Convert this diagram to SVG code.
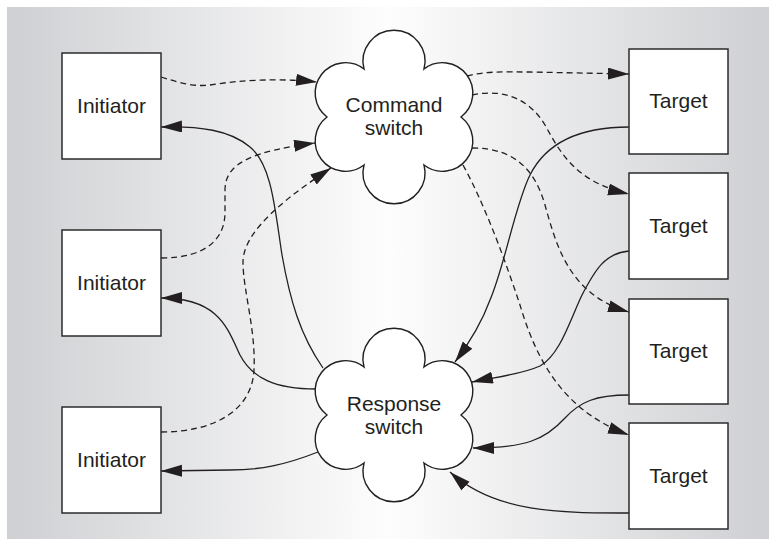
<svg xmlns="http://www.w3.org/2000/svg" width="776" height="546" viewBox="0 0 776 546">
<defs>
<linearGradient id="bg" x1="0" y1="0" x2="1" y2="0">
<stop offset="0" stop-color="#cfd0d3"/>
<stop offset="0.5" stop-color="#fdfdfd"/>
<stop offset="1" stop-color="#cfd0d3"/>
</linearGradient>
<marker id="ah" markerUnits="userSpaceOnUse" markerWidth="22" markerHeight="13" refX="21" refY="6" orient="auto" viewBox="0 0 22 13">
<path d="M0,0 L21,6 L0,12 Z" fill="#231f20"/>
</marker>
<path id="cloud" d="M364,69 A31,31 0 1 1 424,69 A30,30 0 0 1 461,117 A30,30 0 0 1 424,165 A31,31 0 1 1 364,165 A30,30 0 0 1 327,117 A30,30 0 0 1 364,69 Z"/>
</defs>
<style>
.box{fill:#ffffff;stroke:#2b2b2b;stroke-width:1.5}
.cl{fill:#ffffff;stroke:#231f20;stroke-width:1.4}
.lbl{font-family:"Liberation Sans",Arial,sans-serif;font-size:21px;fill:#231f20;text-anchor:middle}
.cmd{fill:none;stroke:#231f20;stroke-width:1.3;stroke-dasharray:6 4;marker-end:url(#ah)}
.rsp{fill:none;stroke:#231f20;stroke-width:1.3;marker-end:url(#ah)}
</style>
<rect x="7" y="7" width="762" height="532" fill="url(#bg)"/>
<g id="connectors">
<path class="cmd" d="M161,77 C180,83 195,87 210,85 C240,80 280,78 317,82"/>
<path class="cmd" d="M161,258 C205,258 225,240 225,212 L225,190 C225,162 255,151 315,143"/>
<path class="cmd" d="M161,432 C215,432 252,410 254,370 C256,330 243,290 243,262 C243,230 290,195 331,168"/>
<path class="cmd" d="M467,76 C485,71 505,72 530,72 L629,74"/>
<path class="cmd" d="M472,95 C505,88 530,100 545,125 C560,152 575,182 629,194"/>
<path class="cmd" d="M472,148 C515,148 535,170 545,205 C557,248 570,295 629,312"/>
<path class="cmd" d="M463,165 C485,205 505,260 520,305 C535,355 560,410 629,435"/>
<path class="rsp" d="M629,127 C575,127 545,145 530,175 C515,205 505,265 490,300 C482,322 470,342 455,362"/>
<path class="rsp" d="M629,251 C605,253 595,270 582,295 C570,320 560,355 540,366 C520,375 495,377 472,382"/>
<path class="rsp" d="M629,395 C595,395 580,402 565,418 C545,440 525,448 473,448"/>
<path class="rsp" d="M629,513 C560,513 495,513 450,472"/>
<path class="rsp" d="M323,368 C300,335 290,300 282,255 C275,210 272,165 250,147 C230,130 200,126 161,127"/>
<path class="rsp" d="M316,389 C275,389 252,378 240,355 C228,330 220,298 161,298"/>
<path class="rsp" d="M318,452 C285,465 260,470 230,470 L161,471"/>
</g>
<g id="initiator1"><rect class="box" x="62" y="53" width="99" height="106"/><text class="lbl" x="111.5" y="112.5">Initiator</text></g>
<g id="initiator2"><rect class="box" x="62" y="230" width="99" height="106"/><text class="lbl" x="111.5" y="289.5">Initiator</text></g>
<g id="initiator3"><rect class="box" x="62" y="407" width="99" height="106"/><text class="lbl" x="111.5" y="466.5">Initiator</text></g>
<g id="target1"><rect class="box" x="629" y="49" width="99" height="105"/><text class="lbl" x="678.5" y="108">Target</text></g>
<g id="target2"><rect class="box" x="629" y="173" width="99" height="106"/><text class="lbl" x="678.5" y="232.5">Target</text></g>
<g id="target3"><rect class="box" x="629" y="299" width="99" height="105"/><text class="lbl" x="678.5" y="358">Target</text></g>
<g id="target4"><rect class="box" x="629" y="423" width="99" height="106"/><text class="lbl" x="678.5" y="482.5">Target</text></g>
<g id="command-switch"><use href="#cloud" class="cl"/><text class="lbl" x="394" y="112">Command</text><text class="lbl" x="394" y="135">switch</text></g>
<g id="response-switch"><use href="#cloud" class="cl" transform="translate(0,298)"/><text class="lbl" x="394" y="410.5">Response</text><text class="lbl" x="394" y="434">switch</text></g>
</svg>
